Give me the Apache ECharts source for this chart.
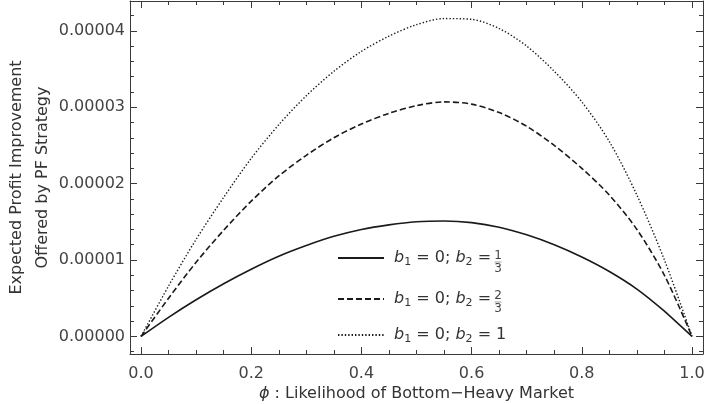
<!DOCTYPE html>
<html>
<head>
<meta charset="utf-8">
<script src="https://cdn.jsdelivr.net/npm/echarts@6/dist/echarts.min.js"></script>
<style>
html,body{margin:0;padding:0;background:#fff}
#chart{width:712px;height:404px}
</style>
</head>
<body>
<div id="chart"></div>
<script>
// phi values and the three curves (values in units of 1e-5)
let phi=[0,0.05,0.1,0.15,0.2,0.25,0.3,0.35,0.4,0.45,0.5,0.55,0.6,0.65,0.7,0.75,0.8,0.85,0.9,0.95,1];
let oneThird=[0,0.25,0.48,0.69,0.88,1.05,1.19,1.31,1.40,1.46,1.50,1.51,1.49,1.43,1.33,1.20,1.04,0.85,0.62,0.33,0];
let twoThirds=[0,0.50,0.97,1.39,1.77,2.10,2.37,2.60,2.78,2.92,3.02,3.07,3.04,2.93,2.75,2.50,2.20,1.85,1.40,0.80,0];
let one=[0,0.66,1.27,1.82,2.33,2.77,3.15,3.47,3.73,3.93,4.08,4.16,4.15,4.03,3.80,3.47,3.07,2.55,1.85,1.00,0];

let xTicks=[0,0.2,0.4,0.6,0.8,1];
let xMinor=[0.05,0.1,0.15,0.25,0.3,0.35,0.45,0.5,0.55,0.65,0.7,0.75,0.85,0.9,0.95];
let yTicks=[0,1,2,3,4];
let yMinor=[-0.2,0.2,0.4,0.6,0.8,1.2,1.4,1.6,1.8,2.2,2.4,2.6,2.8,3.2,3.4,3.6,3.8,4.2];

let font="DejaVu Sans";
let frame="#3a3a3a";
let ink="#1a1a1a";

function pairs(v){
    return phi.map((p,i)=>[p,v[i]]);
}

// one axis of the frame: major or minor ticks only
function frameAxis(pos,isX,ticks,len,main){
    let ax={
        type:"value",
        position:pos,
        min:isX?-0.02:-0.23,
        max:isX?1.02:4.39,
        axisLine:{show:main,onZero:false,lineStyle:{color:frame,width:1}},
        axisTick:{show:true,inside:true,length:len,customValues:ticks,lineStyle:{color:frame,width:1}},
        axisLabel:{show:false},
        splitLine:{show:false}
    };
    return ax;
}

let xBottom=frameAxis("bottom",true,xTicks,7,true);
xBottom.axisLabel={
    show:true,customValues:xTicks,margin:12,
    fontFamily:font,fontSize:16,color:"#444",
    formatter:v=>v.toFixed(1)
};
xBottom.name="{i|ϕ} : Likelihood of Bottom\u2212Heavy Market";
xBottom.nameLocation="middle";
xBottom.nameGap=32;
xBottom.nameMoveOverlap=false;
xBottom.nameTextStyle={
    fontFamily:font,fontSize:16,color:"#333",
    rich:{i:{fontFamily:font,fontSize:16,fontStyle:"italic",color:"#333"}}
};

let yLeft=frameAxis("left",false,yTicks,7,true);
yLeft.axisLabel={
    show:true,customValues:yTicks,margin:5,
    fontFamily:font,fontSize:16,color:"#444",
    formatter:v=>(v/100000).toFixed(5)
};
yLeft.name="Expected Profit Improvement\nOffered by PF Strategy";
yLeft.nameLocation="middle";
yLeft.nameRotate=90;
yLeft.nameGap=74;
yLeft.nameMoveOverlap=false;
yLeft.nameTextStyle={fontFamily:font,fontSize:16,color:"#333",lineHeight:26};

let richLeg={
    i:{fontFamily:font,fontSize:16,fontStyle:"italic",color:"#333",lineHeight:20},
    s:{fontFamily:font,fontSize:11,color:"#333",lineHeight:12,verticalAlign:"bottom"},
    n:{fontFamily:font,fontSize:16,color:"#333",lineHeight:20}
};
let legLabels={
    s1:"{i|b}{s|1}{n| = 0; }{i|b}{s|2}{n| = }",
    s2:"{i|b}{s|1}{n| = 0; }{i|b}{s|2}{n| = }",
    s3:"{i|b}{s|1}{n| = 0; }{i|b}{s|2}{n| = 1}"
};
function leg(name,top){
    return {
        data:[name],left:337,top:top,padding:0,
        itemWidth:46,itemHeight:20,selectedMode:false,
        itemStyle:{opacity:0},
        formatter:n=>legLabels[n],
        textStyle:{padding:[0,0,0,5],rich:richLeg}
    };
}

function frac(x,y,num){
    let st={fontFamily:font,fontSize:12,fill:"#444"};
    return [
        {type:"text",x:x,y:y-6.5,style:Object.assign({text:num,align:"center",verticalAlign:"middle",textAlign:"center",textVerticalAlign:"middle"},st)},
        {type:"line",shape:{x1:x-3.5,y1:y,x2:x+3.5,y2:y},style:{stroke:"#888",lineWidth:0.8}},
        {type:"text",x:x,y:y+7,style:Object.assign({text:"3",align:"center",verticalAlign:"middle",textAlign:"center",textVerticalAlign:"middle"},st)}
    ];
}

let myChart=echarts.init(document.getElementById("chart"));
let option={
    animation:false,
    backgroundColor:"#fff",
    grid:{left:130,right:9,top:1,bottom:50,containLabel:false,outerBoundsMode:"none"},
    xAxis:[
        xBottom,
        frameAxis("bottom",true,xMinor,4,false),
        frameAxis("top",true,xTicks,7,true),
        frameAxis("top",true,xMinor,4,false)
    ],
    yAxis:[
        yLeft,
        frameAxis("left",false,yMinor,4,false),
        frameAxis("right",false,yTicks,7,true),
        frameAxis("right",false,yMinor,4,false)
    ],
    legend:[leg("s1",250),leg("s2",291),leg("s3",327)],
    graphic:[].concat(frac(498,262,"1"),frac(498,302,"2")),
    series:[
        {name:"s1",type:"line",data:pairs(oneThird),smooth:0.3,symbol:"none",
            lineStyle:{color:ink,width:1.6,type:"solid"},itemStyle:{color:ink}},
        {name:"s2",type:"line",data:pairs(twoThirds),smooth:0.3,symbol:"none",
            lineStyle:{color:ink,width:1.6,type:[6,3]},itemStyle:{color:ink}},
        {name:"s3",type:"line",data:pairs(one),smooth:0.3,symbol:"none",
            lineStyle:{color:ink,width:1.4,type:[1.4,2]},itemStyle:{color:ink}}
    ]
};
myChart.setOption(option);
</script>
</body>
</html>
